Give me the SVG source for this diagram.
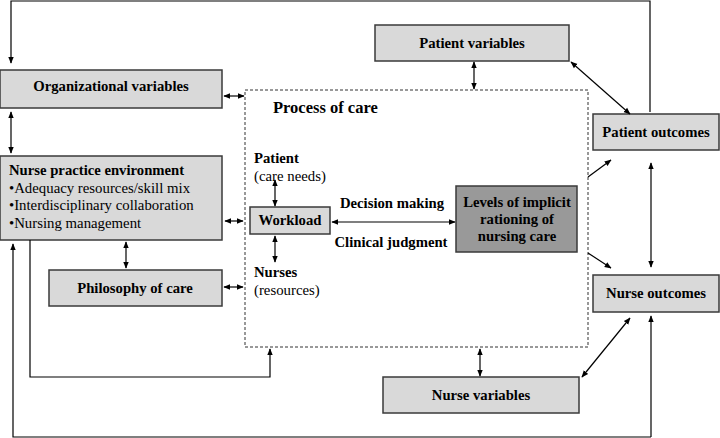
<svg xmlns="http://www.w3.org/2000/svg" width="720" height="438" viewBox="0 0 720 438">
<defs>
<marker id="ah" viewBox="0 0 10 10" refX="9" refY="5" markerWidth="7" markerHeight="7" orient="auto-start-reverse" markerUnits="userSpaceOnUse">
<path d="M0,1 L10,5 L0,9 Z" fill="#000"/>
</marker>
</defs>
<style>
.box{fill:#d9d9d9;stroke:#3a3a3a;stroke-width:1.5}
.dark{fill:#999;stroke:#3a3a3a;stroke-width:1.5}
.b{font-family:"Liberation Serif","Times New Roman","DejaVu Serif",serif;font-weight:bold;font-size:14.7px;fill:#000}
.n{font-family:"Liberation Serif","Times New Roman","DejaVu Serif",serif;font-size:14.8px;fill:#000}
.c{text-anchor:middle}
.ln{fill:none;stroke:#000;stroke-width:1.2}
.s{marker-end:url(#ah)}
.d{marker-start:url(#ah);marker-end:url(#ah)}
.dash{fill:none;stroke:#333;stroke-width:1;stroke-dasharray:3,2}
</style>
<rect width="720" height="438" fill="#fff"/>
<g id="process">
<rect class="dash" x="245" y="90" width="343" height="257"/>
<text class="b" x="273" y="113" style="font-size:16.5px">Process of care</text>
<text class="b" x="254" y="163">Patient</text>
<text class="n" x="254" y="181">(care needs)</text>
<text class="b" x="254" y="277">Nurses</text>
<text class="n" x="254" y="295">(resources)</text>
<text class="b c" x="392" y="208">Decision making</text>
<text class="b c" x="391" y="247">Clinical judgment</text>
</g>
<g id="org">
<rect class="box" x="0" y="70" width="222" height="38"/>
<text class="b c" x="111" y="91">Organizational variables</text>
</g>
<g id="npe">
<rect class="box" x="0" y="156" width="222" height="84"/>
<text class="b" x="9" y="175">Nurse practice environment</text>
<text class="n" x="9" y="193">•Adequacy resources/skill mix</text>
<text class="n" x="9" y="210">•Interdisciplinary collaboration</text>
<text class="n" x="9" y="228">•Nursing management</text>
</g>
<g id="philosophy">
<rect class="box" x="49" y="270" width="173" height="36"/>
<text class="b c" x="135" y="293">Philosophy of care</text>
</g>
<g id="workload">
<rect class="box" x="250" y="207" width="80" height="27"/>
<text class="b c" x="290" y="225">Workload</text>
</g>
<g id="levels">
<rect class="dark" x="456" y="186" width="121" height="66"/>
<text class="b c" x="517" y="207">Levels of implicit</text>
<text class="b c" x="517" y="224">rationing of</text>
<text class="b c" x="517" y="241">nursing care</text>
</g>
<g id="patientvars">
<rect class="box" x="375" y="25" width="194" height="36"/>
<text class="b c" x="472" y="48">Patient variables</text>
</g>
<g id="patientout">
<rect class="box" x="593" y="114" width="126" height="36"/>
<text class="b c" x="656" y="137">Patient outcomes</text>
</g>
<g id="nurseout">
<rect class="box" x="593" y="275" width="126" height="37"/>
<text class="b c" x="656" y="298">Nurse outcomes</text>
</g>
<g id="nursevars">
<rect class="box" x="383" y="377" width="196" height="36"/>
<text class="b c" x="481" y="400">Nurse variables</text>
</g>
<g id="connectors">
<path class="ln s" d="M650,112 V1 H11 V63"/>
<path class="ln d" d="M224,96 H244"/>
<path class="ln d" d="M11,112 V153"/>
<path class="ln d" d="M474,62 V89"/>
<path class="ln d" d="M571,62 L630,114"/>
<path class="ln d" d="M225,221 H243"/>
<path class="ln d" d="M275,180 V206"/>
<path class="ln d" d="M275,236 V262"/>
<path class="ln d" d="M332,222 H455"/>
<path class="ln s" d="M588,177 L611,160"/>
<path class="ln s" d="M588,253 L611,268"/>
<path class="ln d" d="M651,163 V267"/>
<path class="ln d" d="M126,242 V268"/>
<path class="ln d" d="M224,287 H243"/>
<path class="ln s" d="M30,240 V377 H270 V349"/>
<path class="ln s" d="M651,437 H13 V244"/>
<path class="ln s" d="M651,437 V316"/>
<path class="ln d" d="M480,349 V376"/>
<path class="ln d" d="M582,377 L630,318"/>
</g>
</svg>
